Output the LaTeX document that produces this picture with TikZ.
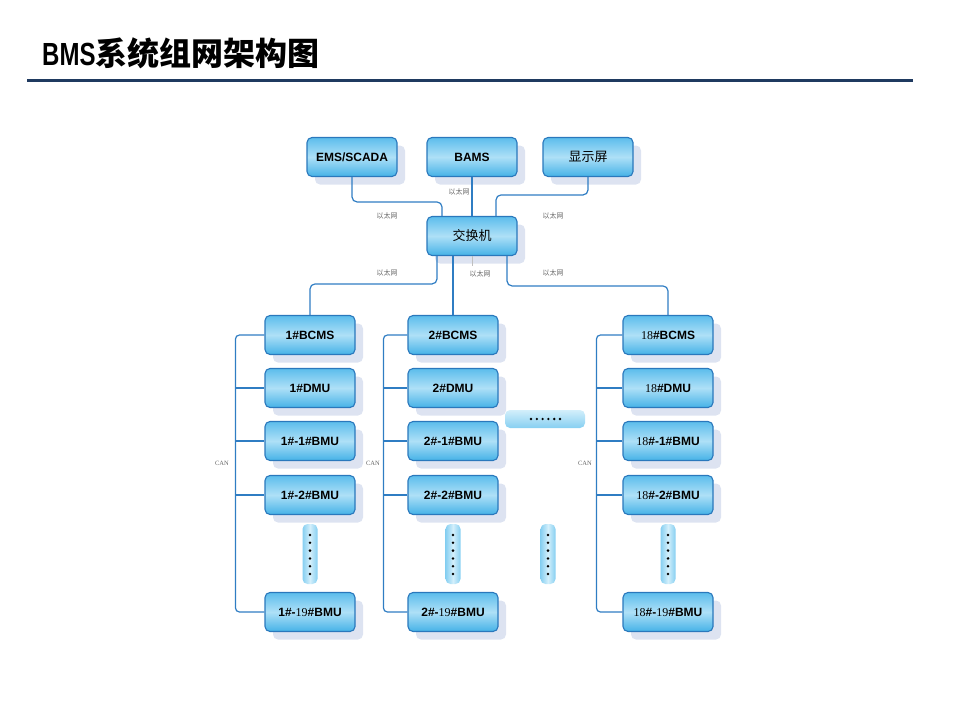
\documentclass[tikz,border=0pt]{standalone}
\usepackage{fontspec}
\setmainfont{Liberation Sans}
\newfontfamily\cjk{Noto Sans CJK SC}
\newfontfamily\serifnum{Liberation Serif}
\newcommand{\sr}[1]{{\serifnum\mdseries #1}}
\usetikzlibrary{shadows}

\definecolor{linec}{HTML}{2F7DC3}
\definecolor{edgec}{HTML}{2A78BC}
\definecolor{boxtop}{HTML}{5CBDEC}
\definecolor{boxmid}{HTML}{AEE0F7}
\definecolor{boxbot}{HTML}{45B2E7}
\definecolor{dotlt}{HTML}{D3EFFB}
\definecolor{dotdk}{HTML}{86CFF1}
\definecolor{shadec}{HTML}{DDE3F1}
\definecolor{rulec}{HTML}{1F3A60}

\tikzset{
  unit/.style={draw=edgec, line width=1.1pt, rounded corners=5pt,
    top color=boxtop, bottom color=boxbot, middle color=boxmid,
    minimum width=90pt, minimum height=39pt, inner sep=0pt,
    font=\bfseries\fontsize{12}{12}\selectfont,
    drop shadow={shadow xshift=8pt, shadow yshift=-8pt, fill=shadec, opacity=1, draw=none}},
  vdots/.style={rounded corners=5pt, left color=dotdk, right color=dotdk, middle color=dotlt,
    minimum width=15pt, minimum height=60pt, inner sep=0pt},
  hdots/.style={rounded corners=5pt, top color=dotlt, bottom color=dotdk,
    minimum width=80pt, minimum height=18pt, inner sep=0pt},
  link/.style={draw=linec, line width=1.2pt, rounded corners=5pt},
  lbl/.style={font=\cjk\fontsize{7}{7}\selectfont, text=black!60},
  canlbl/.style={font=\serifnum\fontsize{6.5}{6.5}\selectfont, text=black!60}
}

\begin{document}
\begin{tikzpicture}[x=1pt, y=-1pt]
  \useasboundingbox (0,0) rectangle (960,720);

  % title
  \node[anchor=west, inner sep=0pt, font=\bfseries\fontsize{32}{32}\selectfont] (title) at (42,53)
    {\scalebox{0.75}[1]{BMS}{\cjk\bfseries 系统组网架构图}};
  \draw[rulec, line width=3pt] (27,80) -- (913,80);

  % upper level
  \node[unit] (ems) at (352,157) {EMS/SCADA};
  \node[unit] (bams) at (472,157) {BAMS};
  \node[unit, font=\cjk\fontsize{13}{13}\selectfont] (screen) at (588,157) {显示屏};
  \node[unit, font=\cjk\fontsize{13}{13}\selectfont] (sw) at (472,236) {交换机};

  % cabinets
  \foreach \c/\x/\n/\d/\k in {a/310/1/29/222, b/453/2/24/373, c/668/{\sr{18}}/26/585} {
    \node[unit] (\c bcms) at (\x,335) {\n\#BCMS};
    \node[unit] (\c dmu) at (\x,388) {\n\#DMU};
    \node[unit] (\c b1) at (\x,441) {\n\#-1\#BMU};
    \node[unit] (\c b2) at (\x,495) {\n\#-2\#BMU};
    \node[unit] (\c b19) at (\x,612) {\n\#-\sr{19}\#BMU};
    \node[vdots] (\c more) at (\x,554) {};
    \foreach \j in {0,...,5}
      \fill (\x,535+\j*7.8) circle (1.4pt);
    % CAN bus
    \draw[link, rounded corners=4pt] (\c bcms.west) -- ++(-\d,0) |- (\c b19.west);
    \foreach \r in {dmu,b1,b2}
      \draw[link] (\c\r.west) -- ++(-\d,0);
    \node[canlbl] (\c can) at (\k,463) {CAN};
  }

  \node[vdots] (midmore) at (548,554) {};
  \foreach \j in {0,...,5}
    \fill (548,535+\j*7.8) circle (1.4pt);
  \node[hdots] (gap) at (545,419) {};
  \foreach \j in {0,...,5}
    \fill (531+\j*5.8,419) circle (1.3pt);

  % ethernet
  \draw[link] (ems.south) |- ([xshift=-30pt,yshift=14pt]sw.north) -- ([xshift=-30pt]sw.north);
  \draw[link] (bams) -- (sw);
  \draw[link] (screen.south) |- ([xshift=24pt,yshift=21pt]sw.north) -- ([xshift=24pt]sw.north);
  \draw[link] ([xshift=-35pt]sw.south) |- ([yshift=31pt]abcms.north) -- (abcms.north);
  \draw[link] (sw.south -| bbcms.north) -- (bbcms.north);
  \draw[link] ([xshift=35pt]sw.south) |- ([yshift=29pt]cbcms.north) -- (cbcms.north);
  \draw[black!25, line width=0.8pt] (sw.south) -- ++(0,10);

  \node[lbl] (e1) at (387,216) {以太网};
  \node[lbl] (e2) at (459,192) {以太网};
  \node[lbl] (e3) at (553,216) {以太网};
  \node[lbl] (e4) at (387,273) {以太网};
  \node[lbl] (e5) at (480,274) {以太网};
  \node[lbl] (e6) at (553,273) {以太网};
\end{tikzpicture}
\end{document}
